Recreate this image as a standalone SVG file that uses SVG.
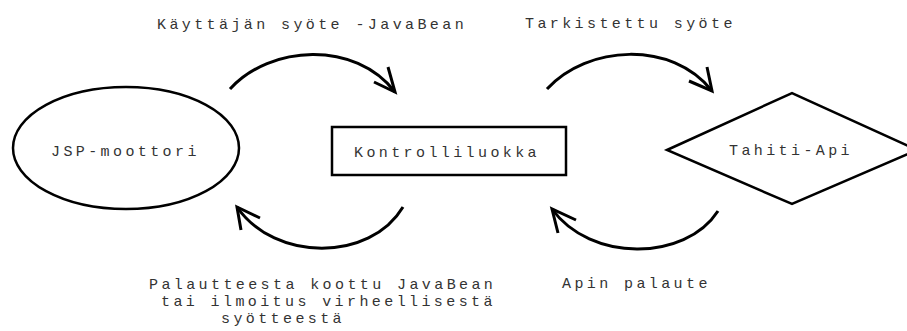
<svg xmlns="http://www.w3.org/2000/svg" width="907" height="331" viewBox="0 0 907 331">
<style>
.shape{fill:#fff;stroke:#000;stroke-width:2.5}
.conn{fill:none;stroke:#000;stroke-width:3;stroke-linecap:butt;stroke-linejoin:miter}
text{font-family:"Liberation Mono","Courier New",monospace;font-size:15px;letter-spacing:3.4px;fill:#333}
</style>
<rect width="907" height="331" fill="#fff"/>
<g id="jsp">
<ellipse class="shape" cx="126" cy="148" rx="113" ry="61"/>
<text x="51" y="156">JSP-moottori</text>
</g>
<g id="kontrolli">
<rect class="shape" x="332" y="127" width="234" height="48"/>
<text x="354" y="157">Kontrolliluokka</text>
</g>
<g id="tahiti">
<polygon class="shape" points="667,150 792,93 917,150 792,204"/>
<text x="729" y="155">Tahiti-Api</text>
</g>
<g id="connectors">
<path class="conn" d="M230,89 C270,45 355,40 395,92"/>
<path class="conn" d="M388,67 L395,92 L374,82"/>
<path class="conn" d="M547,89 C587,45 672,40 712,91"/>
<path class="conn" d="M707,67 L712,91 L689,81"/>
<path class="conn" d="M718,211 C685,262 590,262 552,209"/>
<path class="conn" d="M576,220 L552,209 L558,233"/>
<path class="conn" d="M403,207 C370,262 275,262 237,207"/>
<path class="conn" d="M260,218 L237,207 L241,230"/>
</g>
<g id="labels">
<text x="157" y="29">Käyttäjän syöte -JavaBean</text>
<text x="525" y="28">Tarkistettu syöte</text>
<text x="149" y="289">Palautteesta koottu JavaBean</text>
<text x="161" y="306">tai ilmoitus virheellisestä</text>
<text x="221" y="323">syötteestä</text>
<text x="562" y="288">Apin palaute</text>
</g>
</svg>
